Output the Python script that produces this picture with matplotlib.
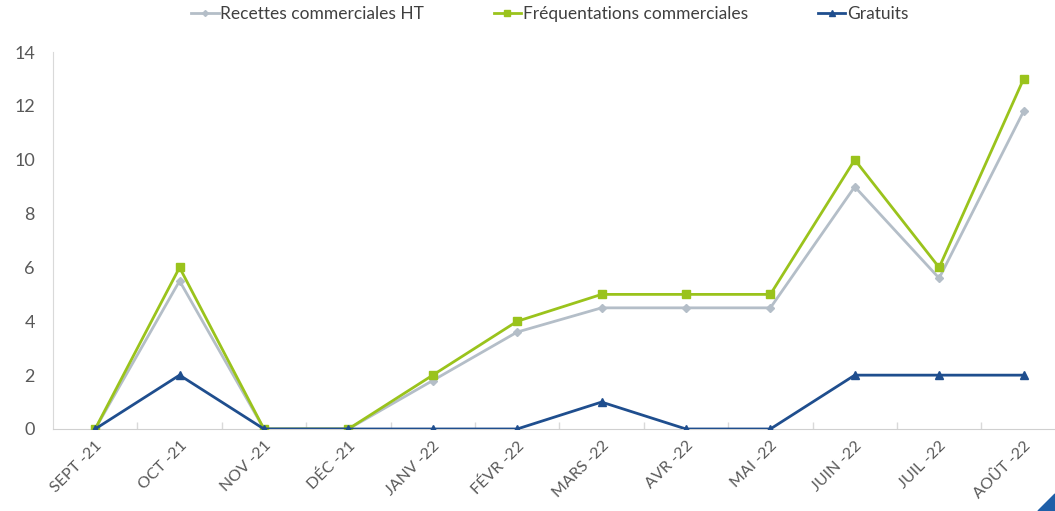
import matplotlib
matplotlib.use('Agg')
import matplotlib.pyplot as plt
from matplotlib.patches import Polygon

months = ['SEPT -21', 'OCT -21', 'NOV -21', 'DÉC -21', 'JANV -22', 'FÉVR -22',
          'MARS -22', 'AVR -22', 'MAI -22', 'JUIN -22', 'JUIL -22', 'AOÛT -22']
recettes = [0, 5.5, 0, 0, 1.8, 3.6, 4.5, 4.5, 4.5, 9.0, 5.6, 11.8]
frequentations = [0, 6, 0, 0, 2, 4, 5, 5, 5, 10, 6, 13]
gratuits = [0, 2, 0, 0, 0, 0, 1, 0, 0, 2, 2, 2]
yticks = [0, 2, 4, 6, 8, 10, 12, 14]

plt.rcParams['font.family'] = ['Lato', 'DejaVu Sans']

fig = plt.figure(figsize=(10.55, 5.11), dpi=100)
ax = fig.add_axes([0.0502, 0.1605, 0.960, 0.7375])

x = list(range(len(months)))
ax.plot(x, recettes, color='#B4BEC8', lw=2.0, marker='D', ms=4,
        label='Recettes commerciales HT', zorder=3)
ax.plot(x, frequentations, color='#9AC31C', lw=2.0, marker='s', ms=5.5,
        label='Fréquentations commerciales', zorder=3)
ax.plot(x, gratuits, color='#1F4E8E', lw=2.0, marker='^', ms=6,
        label='Gratuits', zorder=4)

ax.set_xlim(-0.5, len(months) - 0.5)
ax.set_ylim(0, 14)
ax.set_yticks(yticks)
ax.set_yticklabels([str(v) for v in yticks])
ax.set_xticks(x)
ax.set_xticklabels(months, rotation=45, ha='right', rotation_mode='anchor')
ax.set_xticks([i + 0.5 for i in x], minor=True)

ax.tick_params(axis='y', length=0, pad=13, labelsize=13, labelcolor='#595959')
ax.tick_params(axis='x', which='major', length=0, pad=7, labelsize=11.5, labelcolor='#595959')
ax.tick_params(axis='x', which='minor', length=5, direction='in', color='#D9D9D9', width=1)

for s in ['top', 'right']:
    ax.spines[s].set_visible(False)
ax.spines['left'].set_color('#D9D9D9')
ax.spines['bottom'].set_color('#D0D0D0')

fig.legend(loc='upper center', bbox_to_anchor=(0.521, 1.018), ncol=3, frameon=False,
           fontsize=12.5, handlelength=1.6, columnspacing=4.0, handletextpad=0.1,
           markerscale=0.75, labelcolor='#404040')

corner = Polygon([[1038 / 1055, 0], [1, 17 / 511], [1, 0]], closed=True,
                 transform=fig.transFigure, color='#1F5FA8')
fig.patches.append(corner)

fig.savefig('out.png', dpi=100)
